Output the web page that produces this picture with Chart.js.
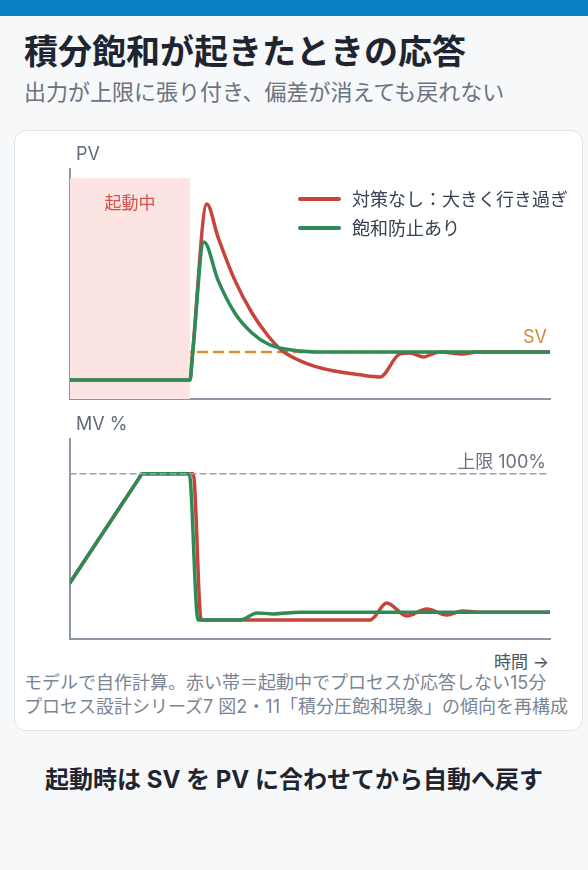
<!DOCTYPE html>
<html lang="ja">
<head>
<meta charset="utf-8">
<script src="https://cdn.jsdelivr.net/npm/chart.js@4.4.1/dist/chart.umd.min.js"></script>
<style>
    body {
        margin: 0;
        width: 588px;
        height: 870px;
        background: #f6f8fa;
        font-family: Inter, "Noto Sans CJK JP", sans-serif;
        position: relative;
        overflow: hidden;
    }
    .topbar { position: absolute; left: 0; top: 0; width: 588px; height: 16px; background: #0a7fc4; }
    .card {
        position: absolute; left: 14px; top: 130px; width: 567px; height: 599px;
        background: #fff; border: 1px solid #dfe3e8; border-radius: 12px;
    }
    .t { position: absolute; white-space: nowrap; }
    .title { left: 24px; top: 34px; font-size: 34px; line-height: 36px; font-weight: 700; color: #1f2530; }
    .subtitle { left: 24px; top: 80px; font-size: 22px; line-height: 24px; color: #6b7280; }
    .axis-label { font-size: 18px; line-height: 20px; color: #5f6b7a; }
    .legend { left: 298px; font-size: 18px; line-height: 20px; color: #374151; }
    .legend i { display: inline-block; width: 43px; height: 4px; border-radius: 2px; vertical-align: middle; margin-right: 11px; position: relative; top: -2px; }
    .note { left: 24px; font-size: 18px; line-height: 20px; color: #7b8494; }
    .footer { left: 0; width: 588px; text-align: center; top: 765px; font-size: 24px; line-height: 30px; font-weight: 700; color: #1f2530; }
    canvas { position: absolute; }
</style>
</head>
<body>
<div class="topbar"></div>
<div class="t title">積分飽和が起きたときの応答</div>
<div class="t subtitle">出力が上限に張り付き、偏差が消えても戻れない</div>
<div class="card"></div>

<canvas id="pv-chart" width="500" height="250" style="left:60px; top:160px;"></canvas>
<canvas id="mv-chart" width="500" height="220" style="left:60px; top:430px;"></canvas>

<div class="t axis-label" style="left:76px; top:144px;">PV</div>
<div class="t" style="left:100px; width:60px; text-align:center; top:193px; font-size:17px; line-height:20px; color:#d0524a;">起動中</div>
<div class="t legend" style="top:190px;"><i style="background:#c5443b"></i>対策なし：大きく行き過ぎ</div>
<div class="t legend" style="top:219px;"><i style="background:#2e8b57"></i>飽和防止あり</div>
<div class="t" style="left:523px; top:327px; font-size:18px; line-height:20px; color:#d18b2a;">SV</div>

<div class="t axis-label" style="left:76px; top:414px;">MV %</div>
<div class="t axis-label" style="right:42px; top:452px; color:#6b7280;">上限 100%</div>
<div class="t" style="right:39px; top:652px; font-size:17px; line-height:20px; color:#4b5563;">時間 →</div>

<div class="t note" style="top:673px;">モデルで自作計算。赤い帯＝起動中でプロセスが応答しない15分</div>
<div class="t note" style="top:697px;">プロセス設計シリーズ7 図2・11「積分圧飽和現象」の傾向を再構成</div>

<div class="t footer">起動時は SV を PV に合わせてから自動へ戻す</div>

<script>
// time axis in minutes, 0-60. first 15 min = startup, process doesn't respond
const timeMax = 60;
const startupEnd = 15;
const startupBandTop = 96;
const svValue = 20.4;
const mvLimit = 100;

// PV (top panel)
const pvTimeRed = [0, 15, 15.3, 17.1, 18.5, 20.6, 22.75, 24.75, 26.5, 28.5, 30.6, 32.9, 36.25, 38.75, 41.25, 42.5, 44.1, 46.25, 49.1, 50.9, 60];
const pvRed     = [8.3, 8.3, 19.2, 84.8, 70.4, 51.7, 37.4, 27.5, 21, 17, 14.2, 12.3, 10.5, 9.6, 19.6, 20, 18.3, 20.4, 19.6, 20.4, 20.4];
const pvTimeGreen = [0, 15, 15.3, 16.75, 18.5, 20.6, 22.75, 24.75, 26.9, 30.6, 60];
const pvGreen     = [8.3, 8.3, 18.6, 68.3, 51.7, 37.4, 28.7, 23.9, 21.7, 20.4, 20.4];

// MV % (bottom panel)
const mvTimeRed = [0, 8.7, 9, 15.4, 16.4, 37.5, 39.6, 42.1, 44.6, 47.1, 49.1, 51, 60];
const mvRed     = [34, 97.8, 100, 100, 11.5, 11.5, 21.8, 13.9, 18.2, 14.5, 17, 16.2, 16.2];
const mvTimeGreen = [0, 8.7, 9, 14.9, 16, 21.25, 23.4, 25.4, 28.75, 60];
const mvGreen     = [34, 97.8, 100, 100, 11.5, 11.5, 15.8, 15.2, 16.2, 16.2];

const RED = '#c5443b';
const GREEN = '#2e8b57';
const AXIS = '#8b95a3';

function toPoints(ts, vs) {
    return ts.map((t, i) => ({ x: t, y: vs[i] }));
}

function panelOptions(yMax) {
    return {
        responsive: false,
        animation: false,
        layout: { padding: { left: 10, top: 9, right: 10, bottom: 11 } },
        plugins: {
            legend: { display: false },
            tooltip: { enabled: false },
        },
        elements: {
            point: { radius: 0 },
            line: { cubicInterpolationMode: 'monotone', borderCapStyle: 'round', borderJoinStyle: 'round' }
        },
        scales: {
            x: {
                type: 'linear',
                min: 0,
                max: timeMax,
                grid: { display: false, drawTicks: false },
                ticks: { display: false },
                border: { display: true, color: AXIS, width: 2 }
            },
            y: {
                min: 0,
                max: yMax,
                grid: { display: false, drawTicks: false },
                ticks: { display: false },
                border: { display: true, color: AXIS, width: 2 }
            }
        }
    };
}

var pvChart = new Chart(document.getElementById('pv-chart').getContext('2d'), {
    type: 'line',
    data: {
        datasets: [{
            label: '飽和防止あり',
            data: toPoints(pvTimeGreen, pvGreen),
            borderColor: GREEN,
            borderWidth: 3.5,
            fill: false,
            order: 0
        }, {
            label: '対策なし：大きく行き過ぎ',
            data: toPoints(pvTimeRed, pvRed),
            borderColor: RED,
            borderWidth: 3.5,
            fill: false,
            order: 1
        }, {
            label: '起動中',
            data: [{ x: 0, y: startupBandTop }, { x: startupEnd, y: startupBandTop }],
            borderWidth: 0,
            borderColor: 'rgba(0,0,0,0)',
            backgroundColor: '#fbe4e2',
            fill: 'origin',
            cubicInterpolationMode: 'default',
            tension: 0,
            order: 2
        }, {
            label: 'SV',
            data: [{ x: 0, y: svValue }, { x: timeMax, y: svValue }],
            borderColor: '#d8912e',
            borderWidth: 2.5,
            borderDash: [9, 7],
            fill: false,
            order: 3
        }]
    },
    options: panelOptions(100)
});

var mvChart = new Chart(document.getElementById('mv-chart').getContext('2d'), {
    type: 'line',
    data: {
        datasets: [{
            label: '上限 100%',
            data: [{ x: 0, y: mvLimit }, { x: timeMax, y: mvLimit }],
            borderColor: '#9aa1ab',
            borderWidth: 1.5,
            borderDash: [6, 4],
            fill: false,
            order: -1
        }, {
            label: '飽和防止あり',
            data: toPoints(mvTimeGreen, mvGreen),
            borderColor: GREEN,
            borderWidth: 3.5,
            fill: false,
            order: 0
        }, {
            label: '対策なし',
            data: toPoints(mvTimeRed, mvRed),
            borderColor: RED,
            borderWidth: 3.5,
            fill: false,
            order: 1
        }]
    },
    options: panelOptions(121)
});
</script>
</body>
</html>
